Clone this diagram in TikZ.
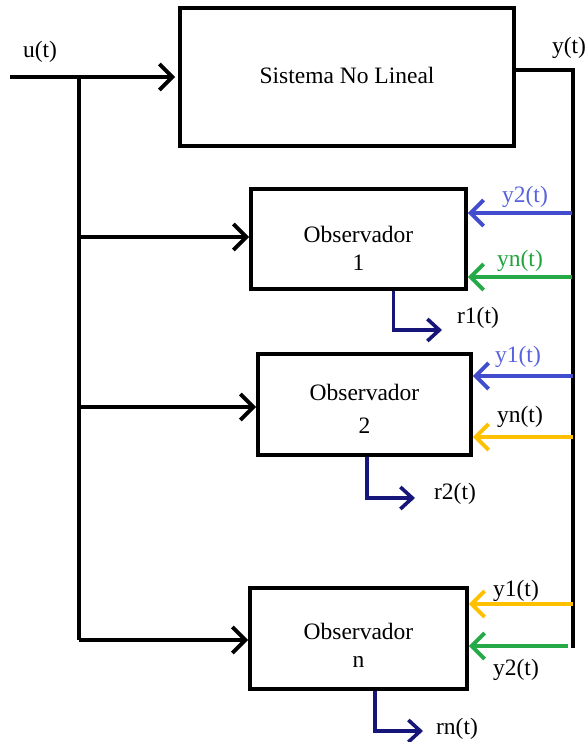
\documentclass[tikz,border=0pt]{standalone}
\usepackage{fontspec}
\setmainfont{Liberation Serif}
\usetikzlibrary{arrows.meta}
\definecolor{sigblue}{RGB}{66,76,206}
\definecolor{labblue}{RGB}{88,98,222}
\definecolor{siggreen}{RGB}{38,170,72}
\definecolor{labgreen}{RGB}{30,165,60}
\definecolor{sigyellow}{RGB}{255,192,0}
\definecolor{resnavy}{RGB}{22,22,122}
\begin{document}
\begin{tikzpicture}[x=1pt,y=-1pt,
  font=\fontsize{23.5}{27}\selectfont,
  block/.style={draw,line width=3.8pt,rectangle,inner sep=0pt},
  blocktext/.style={align=center,inner sep=0pt},
  wire/.style={line width=3.8pt},
  arr/.style={line width=3.8pt,-{Straight Barb[length=13pt,width=26pt]}},
  res/.style={line width=3.6pt,draw=resnavy,-{Straight Barb[length=12pt,width=22pt]}},
  lab/.style={inner sep=0pt}]
\useasboundingbox (0,0) rectangle (587,742);

% blocks
\node[block,minimum width=334pt,minimum height=138pt] (plant) at (347,77) {};
\node[block,minimum width=215pt,minimum height=100pt] (obs1) at (358.5,239) {};
\node[block,minimum width=213pt,minimum height=101pt] (obs2) at (364.5,404.5) {};
\node[block,minimum width=217pt,minimum height=101pt] (obsn) at (358.5,638.5) {};
\node[blocktext] (plantt) at ([yshift=2pt]plant.center) {Sistema No Lineal};
\node[blocktext] (obs1t) at ([yshift=-9pt]obs1.center) {Observador\\[1pt]1};
\node[blocktext] (obs2t) at ([yshift=-4pt]obs2.center) {Observador\\[6pt]2};
\node[blocktext] (obsnt) at ([yshift=-7pt]obsn.center) {Observador\\[1pt]n};

% input u(t) and its distribution bus
\coordinate (uin) at (10,77);
\coordinate (btop) at (79,77);
\coordinate (b1) at (79,237);
\coordinate (b2) at (79,407);
\coordinate (bn) at (79,640);
\draw[arr,shorten >=3pt] (uin) -- (plant.west |- uin);
\draw[wire] (btop) -- (bn);
\draw[arr] (b1) -- (obs1.west |- b1);
\draw[arr] (b2) -- (obs2.west |- b2);
\draw[arr] (bn) -- (obsn.west |- bn);
\node[lab] (ulab) at (40,52) {u(t)};

% output y(t) and its return bus
\coordinate (ytop) at (573,70);
\coordinate (ybot) at (573,648);
\draw[wire] (plant.east |- ytop) -- (ytop) -- (ybot);
\node[lab] (ylab) at (569,48) {y(t)};

% measured outputs fed to each observer
\coordinate (i11) at (572,213);
\coordinate (i12) at (572,277);
\coordinate (i21) at (573,376);
\coordinate (i22) at (573,437);
\coordinate (in1) at (573,604);
\coordinate (in2) at (568,646);
\draw[arr,draw=sigblue] (i11) -- (obs1.east |- i11);
\draw[arr,draw=siggreen] (i12) -- (obs1.east |- i12);
\draw[arr,draw=sigblue] (i21) -- (obs2.east |- i21);
\draw[arr,draw=sigyellow] (i22) -- (obs2.east |- i22);
\draw[arr,draw=sigyellow] (in1) -- (obsn.east |- in1);
\draw[arr,draw=siggreen] (in2) -- (obsn.east |- in2);
\node[lab,text=labblue] (l11) at (525,197) {y2(t)};
\node[lab,text=labgreen] (l12) at (520,261) {yn(t)};
\node[lab,text=labblue] (l21) at (518,357) {y1(t)};
\node[lab] (l22) at (520,417) {yn(t)};
\node[lab] (ln1) at (516,591) {y1(t)};
\node[lab] (ln2) at (516,670) {y2(t)};

% residuals
\coordinate (r1) at (442,330);
\coordinate (r2) at (415,498);
\coordinate (rn) at (423,731);
\draw[res] ([xshift=35pt]obs1.south) |- (r1);
\draw[res] ([xshift=2.5pt]obs2.south) |- (r2);
\draw[res] ([xshift=16.5pt]obsn.south) |- (rn);
\node[lab] (r1lab) at (478,318) {r1(t)};
\node[lab] (r2lab) at (455,494) {r2(t)};
\node[lab] (rnlab) at (457,729) {rn(t)};
\end{tikzpicture}
\end{document}
